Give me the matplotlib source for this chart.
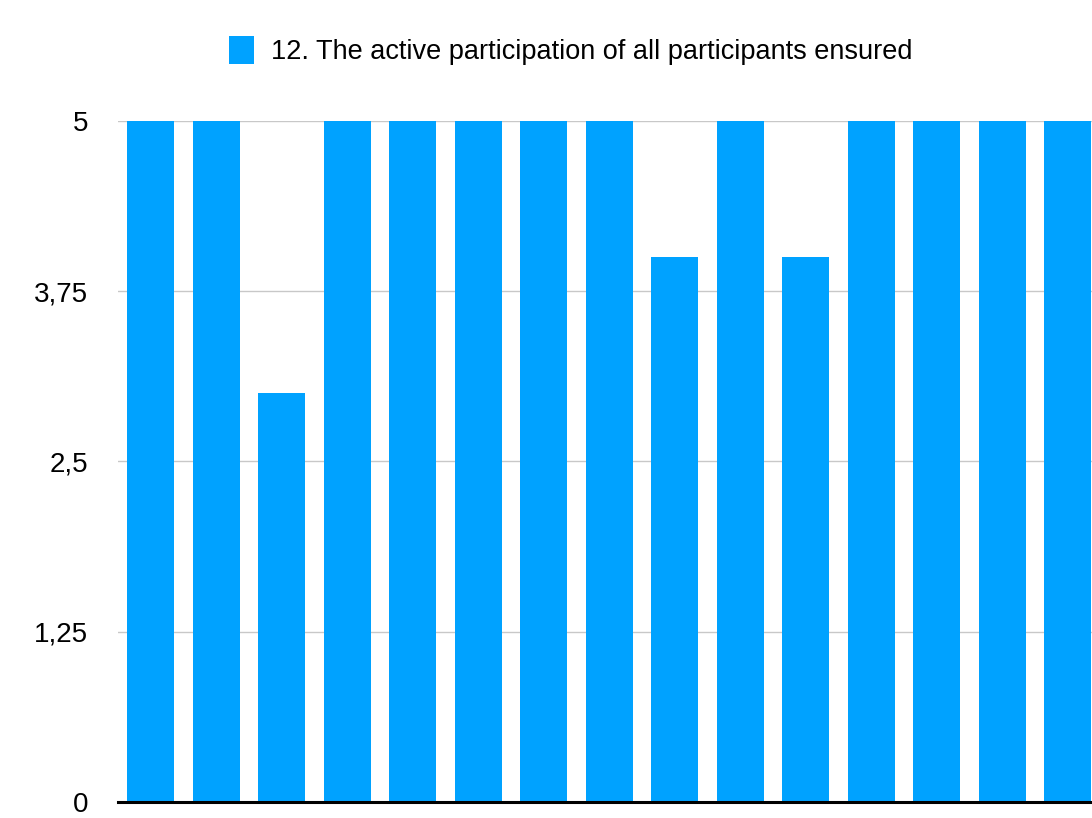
import matplotlib.pyplot as plt
from matplotlib.patches import Patch

# valeurs
items = list(range(1, 16))
scores = [5, 5, 3, 5, 5, 5, 5, 5, 4, 5, 4, 5, 5, 5, 5]
y_ticks = [0, 1.25, 2.5, 3.75, 5]
y_labels = ["0", "1,25", "2,5", "3,75", "5"]
series_name = "12. The active participation of all participants ensured"

blue = "#00A2FF"

plt.rcParams['font.family'] = ['Liberation Sans', 'DejaVu Sans']

fig = plt.figure(figsize=(10.92, 8.18), dpi=100)
ax = fig.add_axes([0.1081, 0.0196, 0.8919, 0.8325])

x = list(range(len(items)))
ax.bar(x, scores, width=0.72, color=blue, zorder=3)

ax.set_xlim(-0.5, 14.37)
ax.set_ylim(0, 5)
ax.set_yticks(y_ticks)
ax.set_yticklabels(y_labels, fontsize=20)
ax.set_xticks([])
ax.tick_params(axis='y', length=0, pad=21.5)
ax.grid(axis='y', color='#c8c8c8', linewidth=1, zorder=0)

for s in ['top', 'right', 'left']:
    ax.spines[s].set_visible(False)
ax.spines['bottom'].set_linewidth(2.2)
ax.spines['bottom'].set_color('black')
ax.spines['bottom'].set_zorder(4)

handle = Patch(facecolor=blue, edgecolor='none')
fig.legend([handle], [series_name], loc='center', bbox_to_anchor=(0.523, 0.938),
           frameon=False, fontsize=19.5, handlelength=0.9, handleheight=1.2,
           handletextpad=0.65)

fig.savefig("out.png", dpi=100)
